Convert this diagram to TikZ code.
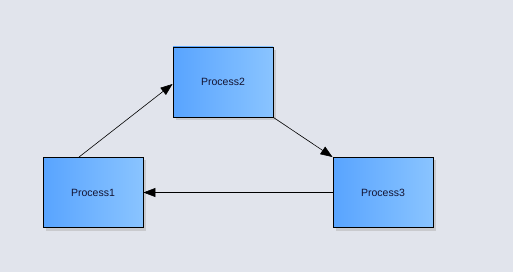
\documentclass[tikz,border=0pt]{standalone}
\usepackage{fontspec}
\setsansfont{Liberation Sans}
\usetikzlibrary{arrows.meta,positioning,shadows}
\definecolor{procbg}{RGB}{225,228,236}
\definecolor{procleft}{RGB}{88,164,255}
\definecolor{procright}{RGB}{138,196,255}
\definecolor{proctext}{RGB}{20,20,50}

\tikzset{
  procbox/.style={draw=black, line width=0.9pt, minimum width=100pt, minimum height=70pt,
    left color=procleft, right color=procright,
    drop shadow={shadow xshift=3pt, shadow yshift=-3pt, fill=black!30, opacity=0.5},
    font=\sffamily\fontsize{10.5}{12}\selectfont, text=proctext},
  flow/.style={line width=0.6pt, -{Triangle[length=12pt,width=9pt]}}
}

\begin{document}
\begin{tikzpicture}[x=1pt, y=-1pt]
  \fill[procbg] (0,0) rectangle (513,272);
  \useasboundingbox (0,0) rectangle (513,272);
  \node[procbox] (p1) at (93,192.5) {Process1};
  \node[procbox] (p2) at (223,82) {Process2};
  \node[procbox] (p3) at (383,192.5) {Process3};
  \draw[flow] ([xshift=-14pt]p1.north) -- ([yshift=-2pt]p2.west);
  \draw[flow] (p2.south east) -- (p3.north west);
  \draw[flow] (p3.west) -- (p1.east);
\end{tikzpicture}
\end{document}
